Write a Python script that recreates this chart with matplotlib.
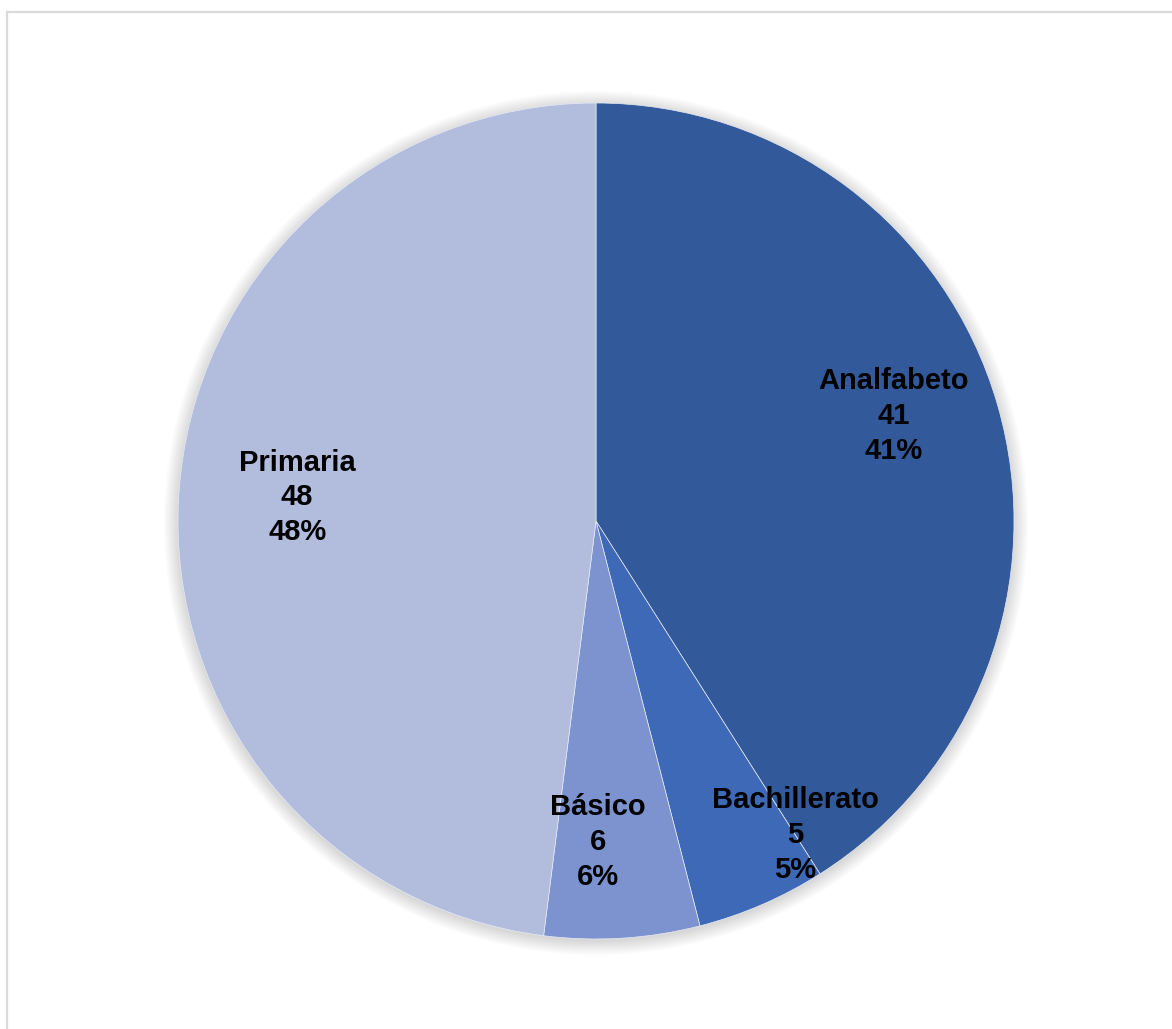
import matplotlib.pyplot as plt
from matplotlib.patches import Circle
from matplotlib.lines import Line2D
import numpy as np

# Nivel educativo
categories = ["Analfabeto", "Bachillerato", "Básico", "Primaria"]
values = [41, 5, 6, 48]
colors = ["#325A9A", "#3E69B7", "#7C93CF", "#B2BDDE"]

# label positions (x, y) in pie radius units, like Excel's best fit
label_pos = [(0.711, 0.251), (0.476, -0.751), (0.005, -0.768), (-0.715, 0.057)]

plt.rcParams['font.family'] = ['Liberation Sans', 'DejaVu Sans']

W, H = 1172, 1029
fig = plt.figure(figsize=(W / 100, H / 100), dpi=100)

# pie centre (596, 521) px, radius 418 px
cx, cy, r = 596, 521, 418
lim = 1.12
ax = fig.add_axes([(cx - r * lim) / W, (H - cy - r * lim) / H, 2 * r * lim / W, 2 * r * lim / H])

wedges, _ = ax.pie(values, colors=colors, startangle=90, counterclock=False,
                   radius=1.0, wedgeprops=dict(edgecolor='#E6EAF4', linewidth=0.5))
for w in wedges:
    w.set_zorder(2)

# soft shadow behind the pie
for k in range(20):
    rad = 1.0 + 0.0018 * k
    ax.add_patch(Circle((0, -0.005), rad, color='black', alpha=0.007, lw=0, zorder=0))

ax.set_xlim(-lim, lim)
ax.set_ylim(-lim, lim)
ax.set_aspect('equal')
ax.axis('off')

total = sum(values)
for name, v, (x, y) in zip(categories, values, label_pos):
    ax.text(x, y, f"{name}\n{v}\n{round(100 * v / total)}%", ha='center', va='center',
            fontsize=21, fontweight='bold', color='black', linespacing=1.3, zorder=5)

# chart area border (light gray, runs off right and bottom edges)
bx, by = 7 / W, 1 - 11.5 / H
fig.add_artist(Line2D([bx, 1.0], [by, by], color='#D9D9D9', lw=1.6))
fig.add_artist(Line2D([bx, bx], [0, by], color='#D9D9D9', lw=1.6))

fig.savefig('out.png', dpi=100, facecolor='white')
